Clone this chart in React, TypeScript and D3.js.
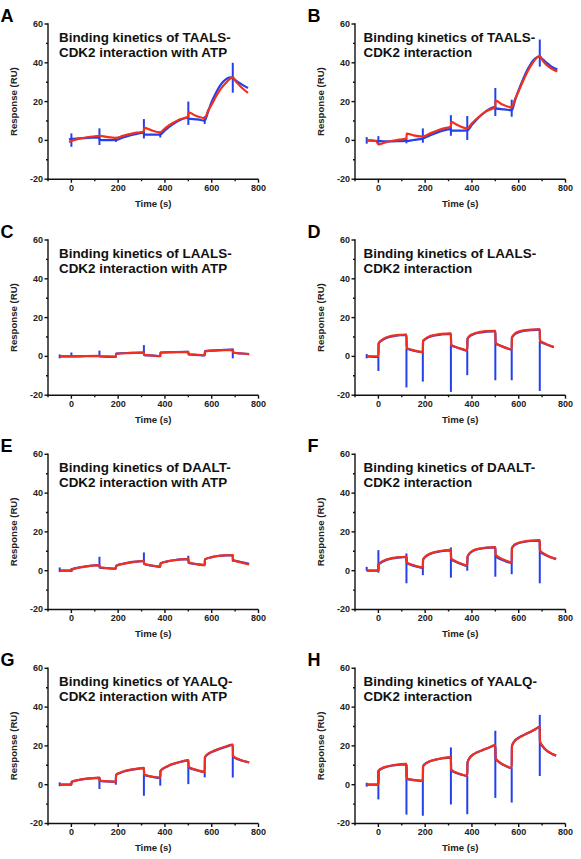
import React from "react";
import { scaleLinear, line, curveMonotoneX } from "d3";

type Pt = [number, number];
// [time, low, high] of an injection artefact in the recorded trace
type Spike = [number, number, number];

const timeTicks = [0, 200, 400, 600, 800];
const timeMinor = [-100, 100, 300, 500, 700];
const respTicks = [-20, 0, 20, 40, 60];
const respMinor = [-10, 10, 30, 50];

// TAALS + ATP
const taalsAtpObs: Pt[] = [[-10,0.3],[0,0.8],[30,1.0],[60,1.2],[90,1.4],[120,1.5],[121,0.2],[150,0.1],[190,0.2],[220,1.5],[250,2.6],[280,3.4],[310,4.0],[311,3.0],[345,3.0],[380,3.0],[400,5.2],[430,8.0],[460,10.2],[500,11.8],[501,11.2],[540,10.8],[570,10.2],[585,15],[600,20],[620,25],[640,29],[660,31.5],[680,32.5],[690,32.3],[700,31.2],[720,29.5],[740,28],[755,27]];
const taalsAtpFit: Pt[] = [[-10,-0.8],[0,-0.3],[30,0.8],[60,1.5],[90,2.0],[120,2.4],[150,1.8],[190,1.3],[220,2.3],[250,3.2],[280,4.0],[310,4.6],[311,6.5],[340,5.3],[380,4.2],[400,6.2],[430,8.7],[460,10.7],[500,12.3],[501,14.5],[530,12.8],[570,11.5],[585,15.5],[600,18.5],[620,23],[640,26.8],[660,29.6],[690,32.5],[700,30.8],[720,28.2],[740,26],[755,24.5]];
const taalsAtpSpikes: Spike[] = [[0,-3.3,3.6],[120,-2.4,6.2],[190,-0.8,1],[310,1,11],[380,1.5,4.5],[500,8,20],[570,8.5,12.5],[690,24.6,40]];

// TAALS
const taalsObs: Pt[] = [[-50,0],[0,-0.3],[30,-0.5],[60,-0.5],[90,-0.4],[120,-0.3],[150,0.2],[190,1.0],[220,2.5],[250,4.0],[280,5.2],[310,5.8],[311,5.0],[345,5.0],[380,5.2],[400,8],[430,12],[460,15],[500,17.3],[501,16.5],[540,16],[570,15.5],[585,21],[600,26],[620,32],[640,37],[660,41],[680,43],[690,43.2],[700,42],[720,40],[740,38],[765,36.5]];
const taalsFit: Pt[] = [[-50,0],[-10,-0.3],[0,-2],[30,-1.0],[60,-0.2],[90,0.4],[120,0.9],[121,3.5],[150,2.6],[190,2],[220,3.5],[250,5],[280,6.2],[310,7],[311,9.5],[340,7.8],[380,6.2],[400,8.8],[430,12.2],[460,15],[500,17.3],[501,20.5],[530,18.5],[570,17],[585,21.5],[600,25.5],[620,31],[640,36],[660,40],[690,43.6],[700,41.5],[720,38.8],[740,37],[765,35.5]];
const taalsSpikes: Spike[] = [[-50,-1.7,1.7],[0,-1.9,2.2],[120,-1.5,1],[190,-1.2,6.2],[310,2.4,13],[380,0.2,12.6],[500,12.6,27],[570,12.2,21],[690,38,52]];

// LAALS + ATP
const laalsAtpObs: Pt[] = [[-50,0],[0,0],[60,0.1],[120,0.2],[121,0],[190,-0.3],[191,1.4],[250,1.8],[310,2.0],[311,0.7],[350,0.4],[380,0.1],[381,2.0],[440,2.2],[500,2.3],[501,1.0],[540,0.7],[570,0.5],[571,2.7],[630,3.2],[690,3.5],[691,2.0],[730,1.5],[760,1.2]];
const laalsAtpFit: Pt[] = [[-50,0],[0,0],[60,0.2],[120,0.3],[121,0.1],[190,-0.1],[191,1.3],[250,1.7],[310,2.0],[311,0.8],[350,0.4],[380,0.2],[381,1.9],[440,2.2],[500,2.4],[501,1.1],[540,0.8],[570,0.6],[571,2.6],[630,3.1],[690,3.4],[691,2.0],[730,1.5],[760,1.2]];
const laalsAtpSpikes: Spike[] = [[-50,-1,1],[0,0,2],[120,0,3],[310,0.7,5.8],[690,-1,4]];

// LAALS
const laalsObs: Pt[] = [[-50,0],[0,-0.3],[1,6.5],[10,7.8],[25,9.0],[45,9.9],[70,10.5],[95,10.9],[120,11.1],[121,4.2],[140,3.3],[165,2.6],[190,2.2],[191,7.8],[200,8.8],[215,9.9],[240,10.8],[270,11.3],[310,11.6],[311,5.8],[330,4.8],[355,3.8],[380,3.0],[381,9.0],[390,10.3],[405,11.3],[430,12.2],[460,12.7],[500,13.0],[501,6.8],[520,5.6],[545,4.4],[570,3.5],[571,9.5],[580,11],[595,12.2],[620,13.1],[650,13.5],[690,13.8],[691,7.8],[710,6.6],[730,5.6],[750,4.8]];
const laalsFit: Pt[] = [[-50,0],[0,0],[1,6.8],[10,8.0],[25,9.3],[45,10.2],[70,10.8],[95,11.1],[120,11.3],[121,4.4],[140,3.5],[165,2.7],[190,2.2],[191,8.0],[200,9],[215,10.2],[240,11],[270,11.6],[310,11.9],[311,6.0],[330,4.9],[355,3.9],[380,3.1],[381,9.3],[390,10.6],[405,11.6],[430,12.5],[460,13],[500,13.2],[501,7.0],[520,5.6],[545,4.4],[570,3.6],[571,9.8],[580,11.3],[595,12.6],[620,13.4],[650,13.8],[690,14.1],[691,8.0],[710,6.8],[730,5.7],[750,4.8]];
const laalsSpikes: Spike[] = [[-50,-1,1.2],[0,-7.5,0],[120,-16,4],[190,-13,2.2],[310,-18.3,5.8],[380,-9.7,3],[500,-12.3,6.8],[570,-12.3,3.5],[690,-17.8,7.8]];

// DAALT + ATP
const daaltAtpObs: Pt[] = [[-50,0],[0,0],[1,0.6],[30,1.6],[60,2.2],[90,2.6],[120,2.9],[121,1.6],[150,1.3],[190,1.0],[191,2.5],[220,3.6],[250,4.3],[280,4.7],[310,5.0],[311,3.5],[345,2.6],[380,2.0],[381,3.8],[410,4.8],[440,5.4],[470,5.8],[500,6.0],[501,4.0],[535,3.4],[570,3.0],[571,5.8],[600,7.0],[630,7.6],[660,7.9],[690,8.0],[691,5.5],[720,4.6],[760,3.6]];
const daaltAtpFit: Pt[] = [[-50,0],[0,0],[1,0.5],[30,1.5],[60,2.1],[90,2.6],[120,2.9],[121,1.8],[150,1.4],[190,1.1],[191,2.4],[220,3.5],[250,4.2],[280,4.7],[310,5.0],[311,3.6],[345,2.7],[380,2.1],[381,3.8],[410,4.8],[440,5.4],[470,5.8],[500,6.1],[501,4.3],[535,3.4],[570,2.8],[571,5.8],[600,7.0],[630,7.6],[660,7.9],[690,8.1],[691,5.5],[720,4.4],[760,3.2]];
const daaltAtpSpikes: Spike[] = [[-50,-0.7,1.7],[0,-0.7,1.2],[120,2.9,7.2],[310,4.3,9.4],[500,5,7.7],[690,4.6,6.9]];

// DAALT
const daaltObs: Pt[] = [[-50,0],[0,0],[1,3],[10,4],[25,5],[45,5.9],[70,6.5],[95,6.9],[120,7.1],[121,4.0],[140,3.0],[165,2.1],[190,1.5],[191,5.5],[200,7],[215,8.3],[240,9.4],[270,10.1],[310,10.5],[311,6.0],[330,4.6],[355,3.4],[380,2.5],[381,7.0],[390,8.8],[405,10.2],[430,11.2],[460,11.8],[500,12.0],[501,7.5],[520,6.0],[545,4.8],[570,4.0],[571,11.5],[580,13.0],[595,14.0],[620,14.8],[650,15.3],[690,15.5],[691,10.0],[710,8.3],[735,6.9],[760,6.0]];
const daaltFit: Pt[] = [[-50,0],[0,0],[1,3.3],[10,4.3],[25,5.3],[45,6.1],[70,6.7],[95,7.0],[120,7.2],[121,4.3],[140,3.2],[165,2.3],[190,1.7],[191,5.8],[200,7.2],[215,8.5],[240,9.6],[270,10.3],[310,10.7],[311,6.3],[330,4.9],[355,3.6],[380,2.7],[381,7.3],[390,9],[405,10.4],[430,11.4],[460,11.9],[500,12.2],[501,8.3],[520,6.6],[545,5.2],[570,4.3],[571,11.6],[580,13.2],[595,14.2],[620,15.0],[650,15.5],[690,15.8],[691,10.5],[710,8.6],[735,7.1],[760,6.1]];
const daaltSpikes: Spike[] = [[-50,0,2],[0,-1,10.6],[120,-6.5,8.9],[190,-2.3,2],[310,-3.6,12],[380,0,3],[500,-3.1,8],[570,-1.8,4.6],[690,-6.5,15]];

// YAALQ + ATP
const yaalqAtpObs: Pt[] = [[-50,0],[0,0],[1,1.5],[30,2.4],[60,3.0],[90,3.3],[120,3.5],[121,2.0],[150,1.7],[190,1.5],[191,5.0],[210,6.2],[230,7.0],[260,7.8],[290,8.3],[310,8.5],[311,5.0],[345,4.1],[380,3.5],[381,7.0],[400,8.8],[420,10],[450,11.2],[475,12],[500,12.5],[501,9.0],[535,7.5],[570,6.5],[571,14.0],[585,15.8],[600,16.8],[630,18.3],[660,19.5],[690,20.5],[691,14.5],[720,12.8],[740,12.1],[760,11.5]];
const yaalqAtpFit: Pt[] = [[-50,0],[0,0],[1,1.4],[30,2.4],[60,3.0],[90,3.4],[120,3.6],[121,2.1],[150,1.8],[190,1.5],[191,5.1],[210,6.3],[230,7.1],[260,7.9],[290,8.4],[310,8.7],[311,5.2],[345,4.2],[380,3.6],[381,7.1],[400,8.9],[420,10.1],[450,11.3],[475,12.1],[500,12.7],[501,9.2],[535,7.6],[570,6.6],[571,14.2],[585,16],[600,17],[630,18.5],[660,19.7],[690,20.7],[691,14.8],[720,12.9],[740,12.1],[760,11.5]];
const yaalqAtpSpikes: Spike[] = [[-50,-0.8,1.2],[120,-2.2,3.3],[190,0,1.5],[310,-5.7,5.8],[380,-0.5,3.4],[500,0.3,9.3],[570,3.8,6.7],[690,3.7,16]];

// YAALQ
const yaalqObs: Pt[] = [[-50,0],[0,0],[1,7],[15,8.3],[30,9.0],[60,9.9],[90,10.3],[120,10.5],[121,3.0],[150,2.4],[190,2.0],[191,9.5],[200,10.8],[215,11.8],[240,12.8],[270,13.5],[310,14.0],[311,7.5],[330,6.2],[355,5.2],[380,4.5],[381,11.5],[390,13.8],[405,15.6],[420,16.6],[450,18.0],[475,19.2],[500,20.3],[501,13.5],[520,11.2],[545,9.6],[570,8.5],[571,20.0],[580,22.2],[600,24.2],[625,25.8],[650,27.2],[670,28.5],[690,29.8],[691,22],[705,19.3],[720,17.5],[740,16.0],[760,15.0]];
const yaalqFit: Pt[] = [[-50,0],[0,0],[1,7.2],[15,8.5],[30,9.2],[60,10],[90,10.5],[120,10.8],[121,3.2],[150,2.5],[190,2.0],[191,9.3],[200,10.7],[215,11.8],[240,12.8],[270,13.6],[310,14.2],[311,7.8],[330,6.4],[355,5.3],[380,4.6],[381,11.3],[390,13.6],[405,15.5],[420,16.6],[450,18.1],[475,19.3],[500,20.4],[501,13.8],[520,11.4],[545,9.7],[570,8.6],[571,19.8],[580,22.0],[600,24.1],[625,25.8],[650,27.3],[670,28.6],[690,30.0],[691,22.3],[705,19.5],[720,17.6],[740,16.1],[760,15.0]];
const yaalqSpikes: Spike[] = [[-50,-1,1],[0,-7.6,7.5],[120,-15.4,10.4],[190,-16,2.4],[310,-10.2,19.2],[380,-15.2,4.5],[500,-6.8,27.8],[570,-9.2,8.5],[690,4.5,36]];

const letters = ["A", "B", "C", "D", "E", "F", "G", "H"];
const peptides = ["TAALS", "TAALS", "LAALS", "LAALS", "DAALT", "DAALT", "YAALQ", "YAALQ"];
const withAtp = [true, false, true, false, true, false, true, false];
const observed = [taalsAtpObs, taalsObs, laalsAtpObs, laalsObs, daaltAtpObs, daaltObs, yaalqAtpObs, yaalqObs];
const fitted = [taalsAtpFit, taalsFit, laalsAtpFit, laalsFit, daaltAtpFit, daaltFit, yaalqAtpFit, yaalqFit];
const spikes = [taalsAtpSpikes, taalsSpikes, laalsAtpSpikes, laalsSpikes, daaltAtpSpikes, daaltSpikes, yaalqAtpSpikes, yaalqSpikes];

const W = 581;
const H = 859;
const colX = [48, 355];
const titleDx = [11, 8.5];
const rowTop = [24, 240, 454.3, 668.3];
const plotW = 210.5;
const plotH = 155.2;

const BLUE = "#2340ea";
const RED = "#f0301f";
const FONT = "'Liberation Sans', Arial, sans-serif";

function Panel({ i }: { i: number }) {
  const col = i % 2;
  const row = Math.floor(i / 2);
  const left = colX[col];
  const top = rowTop[row];

  const x = scaleLinear().domain([-100, 800]).range([0, plotW]);
  const y = scaleLinear().domain([-20, 60]).range([plotH, 0]);
  const path = line<Pt>()
    .x((d) => x(d[0]))
    .y((d) => y(d[1]))
    .curve(curveMonotoneX);

  return (
    <g transform={`translate(${left},${top})`}>
      <text x={-47.5} y={-2} fontSize={18} fontWeight="bold" fontFamily={FONT} fill="#000">
        {letters[i]}
      </text>
      <text fontSize={13.4} fontWeight="bold" fontFamily={FONT} fill="#111">
        <tspan x={titleDx[col]} y={17.7}>{`Binding kinetics of ${peptides[i]}-`}</tspan>
        <tspan x={titleDx[col]} y={32.8}>{withAtp[i] ? "CDK2 interaction with ATP" : "CDK2 interaction"}</tspan>
      </text>

      {/* traces: recorded response, injection artefacts, fitted model */}
      <g>
        {spikes[i].map((s, k) => (
          <line key={k} x1={x(s[0])} x2={x(s[0])} y1={y(s[1])} y2={y(s[2])} stroke={BLUE} strokeWidth={2} />
        ))}
        <path d={path(observed[i]) || ""} fill="none" stroke={BLUE} strokeWidth={2.2} strokeLinejoin="round" />
        <path d={path(fitted[i]) || ""} fill="none" stroke={RED} strokeWidth={2.2} strokeLinejoin="round" />
      </g>

      {/* axes */}
      <g stroke="#111" strokeWidth={1.4} fill="none">
        <line x1={0} x2={0} y1={-0.7} y2={plotH + 0.7} />
        <line x1={0} x2={plotW} y1={plotH} y2={plotH} />
        {respTicks.map((v) => (
          <line key={v} x1={-3.5} x2={0} y1={y(v)} y2={y(v)} />
        ))}
        {respMinor.map((v) => (
          <line key={v} x1={-2} x2={0} y1={y(v)} y2={y(v)} />
        ))}
        {timeTicks.map((v) => (
          <line key={v} x1={x(v)} x2={x(v)} y1={plotH} y2={plotH + 3.5} />
        ))}
        {timeMinor.map((v) => (
          <line key={v} x1={x(v)} x2={x(v)} y1={plotH} y2={plotH + 2} />
        ))}
      </g>
      <g fontSize={9} fontWeight="bold" fontFamily={FONT} fill="#222">
        {respTicks.map((v) => (
          <text key={v} x={-5} y={y(v)} dy="0.33em" textAnchor="end">
            {v}
          </text>
        ))}
        {timeTicks.map((v) => (
          <text key={v} x={x(v)} y={plotH + 11.5} textAnchor="middle">
            {v}
          </text>
        ))}
      </g>
      <text
        transform={`translate(${-31},${plotH / 2}) rotate(-90)`}
        textAnchor="middle"
        fontSize={9.6}
        fontWeight="bold"
        fontFamily={FONT}
        fill="#222"
      >
        Response (RU)
      </text>
      <text x={plotW / 2} y={plotH + 28} textAnchor="middle" fontSize={9.6} fontWeight="bold" fontFamily={FONT} fill="#222">
        Time (s)
      </text>
    </g>
  );
}

export default function App() {
  return (
    <svg width={W} height={H} style={{ position: "absolute", left: 0, top: 0, background: "#fff" }}>
      <rect width={W} height={H} fill="#fff" />
      {letters.map((_, i) => (
        <Panel key={i} i={i} />
      ))}
    </svg>
  );
}
